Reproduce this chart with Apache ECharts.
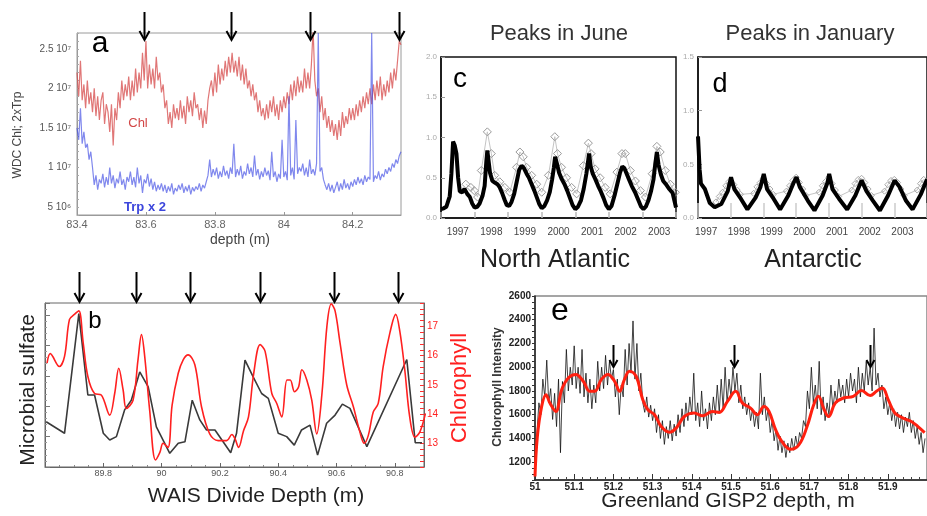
<!DOCTYPE html>
<html><head><meta charset="utf-8">
<script src="https://cdn.jsdelivr.net/npm/echarts@6/dist/echarts.min.js"></script>
<style>html,body{margin:0;padding:0;background:#fff}#c{width:927px;height:516px}</style>
</head><body><div id="c"></div>
<script>
// ---------- Panel a : WDC depth series (units of 1e7) ----------
const depthStartA = 83.40, depthStepA = 0.005;
const chlA = [
2.2,1.9,2.35,1.85,2.05,1.75,2.1,1.8,1.95,1.7,
2.0,1.65,1.9,1.6,1.85,1.95,1.55,1.8,1.7,1.45,
1.8,1.28,1.75,1.6,1.95,1.75,2.1,1.85,2.05,1.9,
2.15,1.85,2.1,1.9,2.25,1.95,2.2,2.0,2.45,2.1,
2.6,2.0,2.3,2.05,2.25,2.0,2.4,2.1,2.2,1.95,
2.05,1.75,1.85,1.55,1.7,1.5,1.8,1.62,1.75,1.6,
1.85,1.62,1.78,1.55,1.9,1.7,1.85,1.65,1.95,1.75,
1.8,1.6,1.75,1.5,1.72,1.55,1.85,2.0,2.1,1.9,
2.2,1.95,2.3,2.05,2.25,2.1,2.35,2.15,2.4,2.2,
2.45,2.2,2.35,2.15,2.4,2.1,2.3,2.05,2.25,2.0,
2.1,1.9,2.05,1.85,1.95,1.7,1.85,1.65,1.75,1.6,
1.8,1.62,1.85,1.7,1.9,1.65,1.8,1.6,1.85,1.7,
1.9,1.75,1.95,1.8,2.05,1.85,2.1,1.9,2.15,1.95,
2.1,1.95,2.25,2.0,2.2,2.0,2.3,2.75,2.1,1.9,
2.0,1.7,1.9,1.6,1.75,1.5,1.65,1.45,1.6,1.4,
1.55,1.35,1.6,1.4,1.7,1.5,1.65,1.55,1.75,1.6,
1.75,1.6,1.8,1.65,1.85,1.7,1.9,1.75,1.95,1.8,
2.0,1.8,2.05,1.85,2.1,1.9,2.15,1.85,2.05,1.9,
2.1,1.95,2.2,2.0,2.25,2.1,2.35,2.6,2.55];
const trpA = [
1.5,1.35,1.75,1.3,1.45,1.25,1.3,1.1,1.2,1.0,
0.78,0.9,0.72,0.85,0.8,0.92,0.75,0.88,0.78,1.0,
0.8,0.9,0.74,0.86,0.8,0.95,0.78,0.85,0.72,0.88,
0.82,0.95,0.78,0.88,0.75,1.0,0.8,0.9,0.68,0.85,
0.8,0.92,0.76,0.86,0.72,0.82,0.7,0.78,0.72,0.8,
0.7,0.78,0.68,0.76,0.7,0.8,0.66,0.74,0.7,0.78,
0.72,0.8,0.68,0.76,0.7,0.78,0.66,0.75,0.7,0.76,
0.72,0.8,0.7,0.78,0.74,0.82,0.9,1.1,0.88,0.98,
0.9,1.0,0.86,0.95,0.88,1.02,0.9,0.96,0.86,1.0,
0.92,1.3,0.88,0.98,0.9,1.02,0.86,0.95,0.9,1.05,
0.92,1.0,0.88,1.15,0.9,0.98,0.85,0.95,0.88,1.0,
0.9,0.96,0.84,1.2,0.88,0.95,0.82,0.92,0.86,1.35,
0.88,0.95,0.84,1.9,0.9,1.0,0.85,1.6,0.92,1.0,
0.95,1.05,0.9,1.0,0.88,1.1,0.92,0.98,0.9,1.05,
2.7,0.95,1.0,0.85,0.78,0.72,0.8,0.7,0.78,0.68,
0.75,0.82,0.7,0.8,0.72,0.85,0.74,0.8,0.72,0.82,
0.76,0.85,0.78,0.88,0.8,0.86,0.78,0.9,0.82,0.88,
0.85,2.7,0.82,0.9,0.86,0.95,0.84,0.92,0.88,0.98,
0.92,1.0,0.95,1.05,1.0,1.1,1.05,1.15,1.2];
const arrowsA = [83.594, 83.848, 84.075, 84.334];

// ---------- Panel b : WAIS Divide ----------
const sulfateB = [[89.604,1.49],[89.667,1.11],[89.716,5.05],[89.747,2.37],[89.77,2.37],[89.80,1.11],[89.822,0.89],[89.845,1.0],[89.873,1.88],[89.896,2.2],[89.925,3.13],[89.954,2.64],[89.982,1.32],[90.028,0.45],[90.057,0.78],[90.08,0.83],[90.105,2.2],[90.131,1.55],[90.154,1.22],[90.183,1.22],[90.211,0.83],[90.237,0.47],[90.257,1.11],[90.286,3.52],[90.314,2.97],[90.343,2.42],[90.366,2.26],[90.40,1.11],[90.429,1.0],[90.455,0.72],[90.48,1.22],[90.509,1.38],[90.535,0.39],[90.566,1.44],[90.595,1.71],[90.62,2.07],[90.646,1.93],[90.704,0.67],[90.841,3.54],[90.87,0.8],[90.893,0.8]];
const chlorophyllB = [[89.607,15.75],[89.618,16.07],[89.649,15.63],[89.667,15.98],[89.684,17.24],[89.701,17.41],[89.716,17.53],[89.731,16.44],[89.747,15.29],[89.77,14.71],[89.793,14.66],[89.822,13.97],[89.839,14.71],[89.853,15.57],[89.868,14.83],[89.879,14.2],[89.902,14.48],[89.919,15.86],[89.931,16.72],[89.942,15.98],[89.959,14.14],[89.979,12.44],[89.994,12.7],[90.005,13.01],[90.022,12.87],[90.036,14.31],[90.057,15.4],[90.074,15.86],[90.091,16.03],[90.114,15.69],[90.137,14.25],[90.165,13.33],[90.194,13.1],[90.223,13.1],[90.241,13.31],[90.252,13.16],[90.264,12.87],[90.281,13.44],[90.298,13.91],[90.316,15.4],[90.338,16.38],[90.355,16.15],[90.378,14.71],[90.395,14.37],[90.412,13.91],[90.43,15.17],[90.441,15.17],[90.456,14.77],[90.47,14.94],[90.481,15.52],[90.498,15.17],[90.515,14.48],[90.532,13.33],[90.55,14.71],[90.567,17.01],[90.582,17.77],[90.595,17.53],[90.612,16.44],[90.635,15.0],[90.658,14.25],[90.68,13.4],[90.695,13.01],[90.709,13.28],[90.726,14.08],[90.743,14.37],[90.76,15.63],[90.783,16.78],[90.803,17.41],[90.817,16.84],[90.834,15.52],[90.851,13.91],[90.869,13.22],[90.886,13.4],[90.905,14.03]];
const arrowsB = [89.716, 89.913, 90.096, 90.337, 90.591, 90.81];

// ---------- Panel c : North Atlantic ----------
const yearLabelsC = ['1997','1998','1999','2000','2001','2002','2003'];
const naLine = [[1997.00,0.11],[1997.08,0.12],[1997.16,0.14],[1997.22,0.22],[1997.26,0.27],[1997.31,0.55],[1997.36,0.95],[1997.41,0.90],[1997.46,0.80],[1997.51,0.50],[1997.56,0.33],[1997.63,0.32],[1997.70,0.36],[1997.78,0.30],[1997.86,0.26],[1997.93,0.18],[1998.00,0.13],[1998.08,0.14],[1998.15,0.18],[1998.24,0.28],[1998.30,0.40],[1998.35,0.70],[1998.38,0.84],[1998.42,0.70],[1998.46,0.56],[1998.53,0.46],[1998.60,0.44],[1998.68,0.42],[1998.75,0.38],[1998.83,0.30],[1998.90,0.22],[1998.96,0.16],[1999.03,0.15],[1999.10,0.20],[1999.18,0.30],[1999.26,0.46],[1999.33,0.60],[1999.40,0.65],[1999.47,0.62],[1999.55,0.55],[1999.62,0.50],[1999.70,0.42],[1999.78,0.34],[1999.86,0.25],[1999.93,0.17],[2000.00,0.12],[2000.08,0.15],[2000.16,0.22],[2000.24,0.32],[2000.31,0.48],[2000.36,0.62],[2000.40,0.76],[2000.45,0.68],[2000.52,0.56],[2000.60,0.48],[2000.68,0.42],[2000.76,0.34],[2000.84,0.25],[2000.92,0.16],[2001.00,0.11],[2001.08,0.14],[2001.17,0.22],[2001.25,0.36],[2001.33,0.55],[2001.38,0.70],[2001.41,0.80],[2001.46,0.64],[2001.52,0.55],[2001.60,0.48],[2001.68,0.40],[2001.76,0.33],[2001.84,0.25],[2001.92,0.16],[2002.00,0.11],[2002.08,0.15],[2002.17,0.28],[2002.25,0.42],[2002.33,0.56],[2002.40,0.64],[2002.46,0.62],[2002.53,0.55],[2002.60,0.48],[2002.68,0.40],[2002.78,0.32],[2002.88,0.22],[2002.96,0.14],[2003.03,0.11],[2003.10,0.14],[2003.18,0.22],[2003.26,0.34],[2003.33,0.48],[2003.38,0.66],[2003.43,0.82],[2003.48,0.66],[2003.55,0.54],[2003.62,0.46],[2003.70,0.42],[2003.80,0.36],[2003.90,0.31],[2003.95,0.22],[2004.00,0.13]];
const naDiamonds = [[1997.74,0.42],[1997.89,0.38],[1997.99,0.34],[1998.09,0.26],[1998.20,0.59],[1998.38,1.07],[1998.50,0.80],[1998.60,0.53],[1998.75,0.45],[1998.90,0.38],[1999.05,0.32],[1999.25,0.63],[1999.35,0.82],[1999.45,0.76],[1999.55,0.63],[1999.70,0.53],[1999.85,0.42],[2000.00,0.32],[2000.20,0.53],[2000.39,1.01],[2000.47,0.80],[2000.59,0.63],[2000.74,0.50],[2000.89,0.38],[2001.04,0.30],[2001.24,0.65],[2001.39,0.93],[2001.47,0.80],[2001.59,0.61],[2001.74,0.50],[2001.89,0.38],[2002.04,0.30],[2002.24,0.57],[2002.39,0.80],[2002.49,0.80],[2002.64,0.59],[2002.79,0.46],[2002.94,0.34],[2003.09,0.26],[2003.29,0.55],[2003.43,0.89],[2003.53,0.82],[2003.68,0.59],[2003.83,0.42],[2003.98,0.32]];

// ---------- Panel d : Antarctic ----------
const yearLabelsD = ['1997','','1998','','1999','','2000','','2001','','2002','','2003',''];
const antLine = [[1997.00,0.76],[1997.05,0.45],[1997.09,0.32],[1997.21,0.27],[1997.36,0.14],[1997.51,0.10],[1997.71,0.13],[1997.91,0.25],[1998.01,0.38],[1998.11,0.27],[1998.31,0.18],[1998.51,0.08],[1998.76,0.19],[1998.91,0.29],[1999.01,0.41],[1999.11,0.27],[1999.31,0.18],[1999.51,0.08],[1999.76,0.21],[1999.91,0.32],[2000.01,0.38],[2000.11,0.29],[2000.36,0.16],[2000.56,0.07],[2000.81,0.21],[2000.96,0.33],[2001.01,0.41],[2001.11,0.27],[2001.31,0.18],[2001.56,0.08],[2001.81,0.21],[2002.00,0.35],[2002.15,0.25],[2002.35,0.16],[2002.56,0.07],[2002.81,0.21],[2003.01,0.35],[2003.16,0.29],[2003.36,0.16],[2003.56,0.08],[2003.81,0.22],[2004.00,0.36]];
const antDiamonds = [[1997.55,0.15],[1997.65,0.20],[1997.75,0.24],[1997.85,0.30],[1997.95,0.34],[1998.10,0.31],[1998.20,0.26],[1998.30,0.22],[1998.70,0.23],[1998.80,0.29],[1998.90,0.33],[1999.00,0.37],[1999.10,0.32],[1999.20,0.27],[1999.30,0.22],[1999.70,0.25],[1999.80,0.30],[1999.90,0.35],[2000.00,0.38],[2000.10,0.33],[2000.20,0.27],[2000.30,0.21],[2000.70,0.24],[2000.80,0.30],[2000.90,0.34],[2001.00,0.38],[2001.10,0.32],[2001.20,0.26],[2001.30,0.20],[2001.70,0.26],[2001.80,0.32],[2001.90,0.36],[2002.00,0.37],[2002.10,0.33],[2002.20,0.27],[2002.30,0.21],[2002.70,0.25],[2002.80,0.31],[2002.90,0.35],[2003.00,0.36],[2003.10,0.33],[2003.20,0.27],[2003.30,0.21],[2003.70,0.26],[2003.80,0.32],[2003.90,0.36]];

// ---------- Panel e : GISP2 ----------
const depthStartE = 51.0, depthStepE = 0.005;
const gispRaw = [
1120,1450,1700,1600,1900,1750,2060,1700,1820,1560,
1780,1500,1900,1280,1880,1700,2150,1800,2000,1850,
2180,1820,2000,1780,2150,1750,1950,1700,1900,1650,
1850,1700,2050,1800,2000,1820,2100,1850,2050,1900,
1980,1750,1900,1600,1850,1750,2150,1850,2200,1950,
2390,1900,2200,1800,1950,1700,1620,1750,1580,1680,
1550,1650,1450,1600,1400,1550,1350,1500,1400,1550,
1380,1520,1420,1600,1450,1650,1500,1700,1550,1750,
1600,1950,1550,1700,1500,1800,1550,1650,1480,1700,
1550,1750,1600,1850,1620,1900,1650,2000,1700,1900,
1750,2000,1800,1950,1700,1850,1650,1750,1600,1700,
1550,1650,1500,1620,1480,1950,1600,1750,1550,1650,
1450,1550,1380,1480,1300,1420,1280,1380,1240,1360,
1280,1400,1300,1420,1330,1450,1400,1550,1500,1800,
1650,2000,1700,1850,1650,2050,1600,1750,1550,1700,
1600,1850,1650,1800,1700,1900,1750,1850,1700,1900,
1750,1950,1800,1900,1700,2000,1750,1950,1800,2050,
1850,2000,1800,2330,1850,1950,1750,1850,1650,1750,
1600,1700,1550,1650,1500,1620,1480,1600,1450,1580,
1500,1620,1450,1550,1400,1500,1350,1450,1280,1400];
const gispSmooth = [[51.0,1080],[51.006,1415],[51.017,1670],[51.028,1769],[51.038,1698],[51.053,1627],[51.068,1811],[51.085,1910],[51.104,1939],[51.123,1882],[51.14,1797],[51.152,1797],[51.169,1896],[51.186,1939],[51.203,1882],[51.216,1797],[51.228,1896],[51.241,1967],[51.258,1924],[51.275,1727],[51.288,1642],[51.305,1600],[51.322,1500],[51.343,1452],[51.36,1487],[51.381,1585],[51.406,1614],[51.427,1591],[51.453,1627],[51.47,1619],[51.491,1712],[51.512,1797],[51.529,1698],[51.55,1656],[51.567,1600],[51.584,1670],[51.597,1627],[51.614,1472],[51.63,1373],[51.652,1308],[51.673,1345],[51.694,1500],[51.711,1684],[51.723,1755],[51.736,1656],[51.749,1585],[51.766,1698],[51.787,1741],[51.812,1755],[51.833,1803],[51.855,1761],[51.871,1797],[51.886,1826],[51.901,1727],[51.918,1614],[51.939,1571],[51.96,1543],[51.977,1500],[51.994,1449]];
const arrowsE = [51.198, 51.508, 51.855];

// ---------- helpers ----------
const FONT = 'Liberation Sans, Arial, Helvetica, sans-serif';
function depths(start, step, n) { const r = []; for (let i = 0; i < n; i++) r.push(+(start + i * step).toFixed(3)); return r; }
function zip(xs, ys) { return ys.map((v, i) => [xs[i], v]); }
const depthsA = depths(depthStartA, depthStepA, chlA.length);
const depthsE = depths(depthStartE, depthStepE, gispRaw.length);
function fmtA(v) {
  if (Math.abs(v * 2 - Math.round(v * 2)) > 1e-6) return '';
  const r = Math.round(v * 2) / 2;
  if (r === 0.5) return '5 10\u2076';
  return r + ' 10\u2077';
}

const chart = echarts.init(document.getElementById('c'), null, {renderer: 'canvas'});
const noLine = {show: false};
const option = {
  animation: false,
  backgroundColor: '#fff',
  grid: [
    {left: 77, top: 33, width: 324, height: 182, show: true, borderColor: '#9a9a9a', borderWidth: 1},
    {left: 45, top: 303, width: 379, height: 164, show: true, borderColor: '#666', borderWidth: 1},
    {left: 441, top: 57, width: 235, height: 161, show: true, borderColor: '#111', borderWidth: 1.5},
    {left: 698, top: 57, width: 233, height: 161, show: true, borderColor: '#111', borderWidth: 1.5},
    {left: 535, top: 296, width: 394, height: 184, show: true, borderColor: '#888', borderWidth: 1.5}
  ],
  xAxis: [
    {gridIndex: 0, type: 'value', min: 83.4, max: 84.34, interval: 0.2, splitLine: noLine,
     axisLine: {lineStyle: {color: '#9a9a9a'}}, axisTick: {inside: true, length: 3, lineStyle: {color: '#999'}},
     axisLabel: {color: '#666', fontSize: 11, fontFamily: FONT, margin: 4, showMaxLabel: false}},
    {gridIndex: 1, type: 'value', min: 89.6, max: 90.9, interval: 0.2, splitLine: noLine,
     axisLine: {lineStyle: {color: '#666'}}, axisTick: {inside: true, length: 4, lineStyle: {color: '#666'}},
     minorTick: {show: true, splitNumber: 4, length: 2, lineStyle: {color: '#888'}},
     axisLabel: {color: '#555', fontSize: 9, fontFamily: FONT, margin: 2, showMinLabel: false, showMaxLabel: false}},
    {gridIndex: 2, type: 'value', min: 1997, max: 2004, interval: 1, splitLine: noLine,
     axisLine: {lineStyle: {color: '#111', width: 1.5}}, axisTick: {inside: true, length: 6, lineStyle: {color: '#bbb', width: 1.5}},
     axisLabel: {show: false}},
    {gridIndex: 2, type: 'category', data: yearLabelsC, boundaryGap: true, position: 'bottom',
     axisLine: noLine, axisTick: noLine,
     axisLabel: {color: '#444', fontSize: 10, fontFamily: FONT, margin: 9, interval: 0}},
    {gridIndex: 3, type: 'value', min: 1997, max: 2004, interval: 1, splitLine: noLine,
     axisLine: {lineStyle: {color: '#111', width: 1.5}}, axisTick: {inside: true, length: 15, lineStyle: {color: '#ccc', width: 1.5}},
     axisLabel: {show: false}},
    {gridIndex: 3, type: 'category', data: yearLabelsD, boundaryGap: true, position: 'bottom',
     axisLine: noLine, axisTick: noLine,
     axisLabel: {color: '#444', fontSize: 10, fontFamily: FONT, margin: 9, interval: 0}},
    {gridIndex: 4, type: 'value', min: 51, max: 52, interval: 0.1, splitLine: noLine,
     axisLine: {lineStyle: {color: '#222', width: 1.5}}, axisTick: {inside: true, length: 6, lineStyle: {color: '#333'}},
     minorTick: {show: true, splitNumber: 5, length: 3, lineStyle: {color: '#444'}},
     axisLabel: {color: '#222', fontSize: 10, fontWeight: 'bold', fontFamily: FONT, margin: 2, showMaxLabel: false}}
  ],
  yAxis: [
    {gridIndex: 0, type: 'value', min: 0.4, max: 2.7, interval: 0.1, splitLine: noLine,
     axisLine: {lineStyle: {color: '#9a9a9a'}}, axisTick: {inside: true, length: 2, lineStyle: {color: '#aaa'}},
     axisLabel: {color: '#555', fontSize: 10, fontFamily: FONT, margin: 6, formatter: fmtA}},
    {gridIndex: 1, type: 'value', min: 0, max: 5.4, interval: 1, splitLine: noLine,
     axisLine: {lineStyle: {color: '#666'}}, axisTick: {inside: true, length: 5, lineStyle: {color: '#777'}},
     minorTick: {show: true, splitNumber: 5, length: 2, lineStyle: {color: '#999'}},
     axisLabel: {show: false}},
    {gridIndex: 1, type: 'value', position: 'right', min: 12.2, max: 17.8, interval: 0.2, splitLine: noLine,
     axisLine: {lineStyle: {color: '#666'}}, axisTick: {inside: true, length: 4, lineStyle: {color: '#ff3030'}},
     axisLabel: {color: '#ff2020', fontSize: 10, fontFamily: FONT, margin: 3,
       formatter: v => Math.abs(v - Math.round(v)) < 1e-6 ? String(Math.round(v)) : ''}},
    {gridIndex: 2, type: 'value', min: 0, max: 2, interval: 0.5, splitLine: noLine,
     axisLine: {lineStyle: {color: '#111', width: 1.5}}, axisTick: {inside: true, length: 4, lineStyle: {color: '#999'}},
     axisLabel: {color: '#aaa', fontSize: 8, fontFamily: FONT, margin: 4, formatter: v => v.toFixed(1)}},
    {gridIndex: 3, type: 'value', min: 0, max: 1.5, interval: 0.5, splitLine: noLine,
     axisLine: {lineStyle: {color: '#111', width: 1.5}}, axisTick: {inside: true, length: 4, lineStyle: {color: '#999'}},
     axisLabel: {color: '#aaa', fontSize: 8, fontFamily: FONT, margin: 4, formatter: v => v.toFixed(1)}},
    {gridIndex: 4, type: 'value', min: 1050, max: 2600, interval: 50, splitLine: noLine,
     axisLine: {lineStyle: {color: '#222', width: 1.5}}, axisTick: {inside: false, length: 3, lineStyle: {color: '#333'}},
     axisLabel: {color: '#222', fontSize: 10, fontWeight: 'bold', fontFamily: FONT, margin: 4,
       formatter: v => (Math.round(v) % 200 === 0 ? String(Math.round(v)) : '')}}
  ],
  series: [
    {type: 'line', xAxisIndex: 0, yAxisIndex: 0, data: zip(depthsA, chlA), showSymbol: false, symbol: 'none',
     lineStyle: {color: 'rgba(214,72,72,0.75)', width: 1.2}},
    {type: 'line', xAxisIndex: 0, yAxisIndex: 0, data: zip(depthsA, trpA), showSymbol: false, symbol: 'none',
     lineStyle: {color: 'rgba(60,72,228,0.65)', width: 1.2}},
    {type: 'line', xAxisIndex: 1, yAxisIndex: 1, data: sulfateB, symbol: 'none',
     lineStyle: {color: '#3a3a3a', width: 1.6}},
    {type: 'line', xAxisIndex: 1, yAxisIndex: 2, data: chlorophyllB, symbol: 'none', smooth: 0.35,
     lineStyle: {color: '#ff2020', width: 1.6}},
    {type: 'line', z: 1, xAxisIndex: 2, yAxisIndex: 3, data: naDiamonds, symbol: 'diamond', symbolSize: 8, showSymbol: true,
     itemStyle: {color: 'rgba(255,255,255,0)', borderColor: '#999', borderWidth: 1}, lineStyle: {color: '#c4c4c4', width: 1}},
    {type: 'line', z: 3, xAxisIndex: 2, yAxisIndex: 3, data: naLine, symbol: 'none',
     lineStyle: {color: '#000', width: 4}},
    {type: 'line', z: 1, xAxisIndex: 4, yAxisIndex: 4, data: antDiamonds, symbol: 'diamond', symbolSize: 6, showSymbol: true,
     itemStyle: {color: 'rgba(255,255,255,0)', borderColor: '#aaa', borderWidth: 1}, lineStyle: {color: '#c4c4c4', width: 1}},
    {type: 'line', z: 3, xAxisIndex: 4, yAxisIndex: 4, data: antLine, symbol: 'none',
     lineStyle: {color: '#000', width: 4}},
    {type: 'line', xAxisIndex: 6, yAxisIndex: 5, data: zip(depthsE, gispRaw), symbol: 'none',
     lineStyle: {color: 'rgba(15,15,15,0.78)', width: 1}},
    {type: 'line', xAxisIndex: 6, yAxisIndex: 5, data: gispSmooth, symbol: 'none', smooth: 0.4,
     lineStyle: {color: '#ff2010', width: 3}}
  ]
};
chart.setOption(option);

// ---------- annotations ----------
function txt(x, y, text, size, color, extra) {
  return {type: 'text', x: x, y: y, z: 100,
    style: Object.assign({text: text, fontSize: size, fontFamily: FONT, fill: color, align: 'center', verticalAlign: 'middle'}, extra || {})};
}
function rtxt(x, y, text, size, color, extra) {
  const t = txt(x, y, text, size, color, extra);
  t.rotation = Math.PI / 2;
  return t;
}
function arrow(axisIdx, val, y0, y1, hw, hh) {
  const x = Math.round(chart.convertToPixel({xAxisIndex: axisIdx}, val)) + 0.5;
  return [
    {type: 'line', z: 100, shape: {x1: x, y1: y0, x2: x, y2: y1 - 1}, style: {stroke: '#000', lineWidth: 2}},
    {type: 'polyline', z: 100, shape: {points: [[x - hw, y1 - hh], [x, y1], [x + hw, y1 - hh]]}, style: {stroke: '#000', lineWidth: 2, fill: null}}
  ];
}
const g = [];
arrowsA.forEach(v => g.push(...arrow(0, v, 12, 40, 5, 9)));
arrowsB.forEach(v => g.push(...arrow(1, v, 272, 302, 5, 9)));
arrowsE.forEach(v => g.push(...arrow(6, v, 345, 367, 4, 7)));
g.push(txt(100, 44, 'a', 30, '#000'));
g.push(txt(95, 321, 'b', 24, '#000'));
g.push(txt(460, 79, 'c', 28, '#000'));
g.push(txt(720, 85, 'd', 27, '#000'));
g.push(txt(560, 311, 'e', 32, '#000'));
g.push(txt(138, 123, 'Chl', 13, 'rgb(210,70,70)'));
g.push(txt(145, 207, 'Trp x 2', 13, 'rgb(60,70,220)', {fontWeight: 'bold'}));
g.push(rtxt(18, 135, 'WDC Chl; 2xTrp', 12, '#444'));
g.push(txt(240, 240, 'depth (m)', 14, '#444'));
g.push(rtxt(28, 390, 'Microbial sulfate', 21, '#222'));
g.push(rtxt(460, 388, 'Chlorophyll', 22, '#ff2020'));
g.push(txt(256, 496, 'WAIS Divide Depth (m)', 21, '#222'));
g.push(txt(559, 34, 'Peaks in June', 22, '#333'));
g.push(txt(810, 34, 'Peaks in January', 22, '#333'));
g.push(txt(555, 260, 'North Atlantic', 25, '#222'));
g.push(txt(813, 260, 'Antarctic', 25, '#222'));
g.push(txt(728, 501, 'Greenland GISP2 depth, m', 21, '#222'));
g.push(rtxt(498, 387, 'Chlorophyll Intensity', 12, '#333', {fontWeight: 'bold'}));
chart.setOption({graphic: g});
</script></body></html>
